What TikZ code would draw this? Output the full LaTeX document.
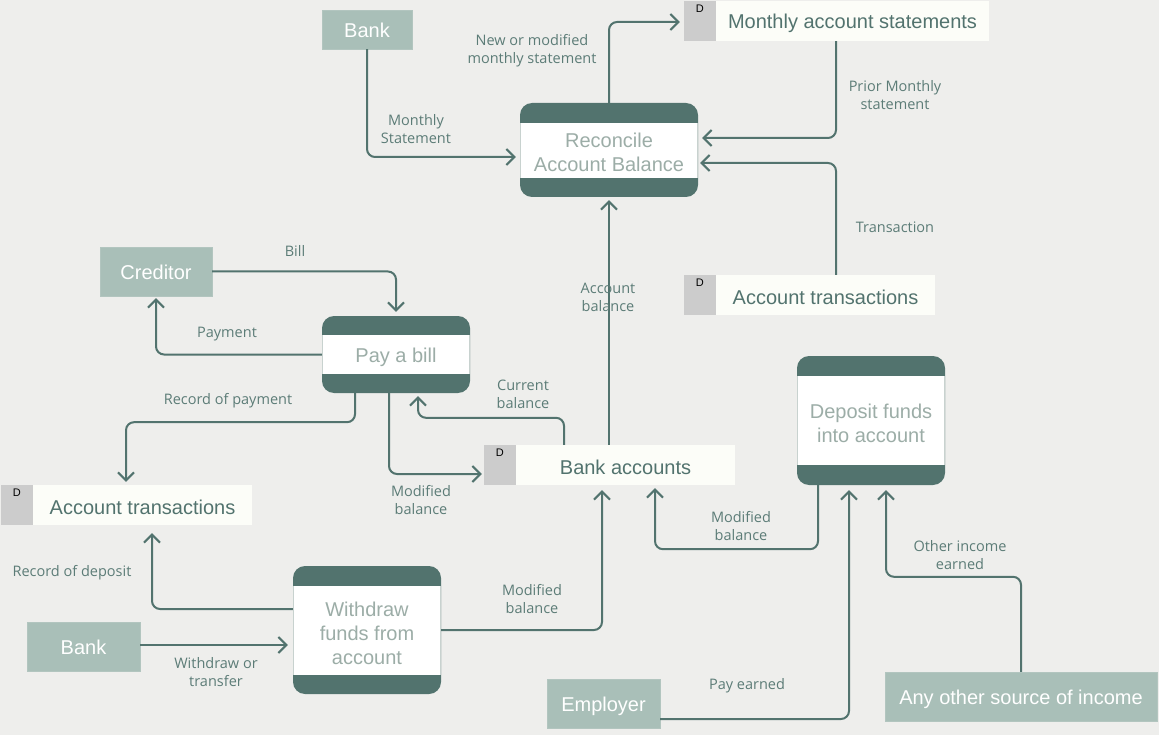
\documentclass[tikz,border=0pt]{standalone}
\usepackage{fontspec}
\setmainfont{Liberation Sans}
\newfontfamily\labfont{Open Sans}
\usetikzlibrary{arrows.meta,calc}
\definecolor{bgc}{HTML}{EEEEEC}
\definecolor{dark}{HTML}{52736E}
\definecolor{entc}{HTML}{A9BFB8}
\definecolor{proctext}{HTML}{9CADA7}
\definecolor{labc}{HTML}{5C7C77}
\definecolor{storec}{HTML}{FCFDF8}
\definecolor{dgray}{HTML}{CCCCCC}
\definecolor{edgec}{HTML}{C8D2CF}
\tikzset{
  entity/.style={fill=entc, draw=entc!90!white, text=white, inner sep=0pt, text height=15.5pt, text depth=0pt, font=\fontsize{20}{24}\selectfont},
  proc/.style={fill=dark, rounded corners=12pt, inner sep=0pt},
  proctxt/.style={align=center, inner sep=0pt, text=proctext, font=\fontsize{20}{24}\selectfont},
  bandbox/.style 2 args={path picture={
    \fill[white, sharp corners] ([yshift=-#1]path picture bounding box.north west) rectangle ([yshift=#2]path picture bounding box.south east);
    \draw[edgec, line width=1.2pt, sharp corners] ([yshift=-#1]path picture bounding box.north west) -- ([yshift=#2]path picture bounding box.south west);
    \draw[edgec, line width=1.2pt, sharp corners] ([yshift=-#1]path picture bounding box.north east) -- ([yshift=#2]path picture bounding box.south east);
  }},
  store/.style={fill=storec, inner sep=0pt, minimum height=40pt},
  storetext/.style={text=dark, inner sep=0pt, font=\fontsize{20}{24}\selectfont},
  dlabel/.style={text=black, inner sep=0pt, font=\fontsize{11}{13}\selectfont},
  flow/.style={draw=dark, line width=2pt, rounded corners=8pt, -{Straight Barb[length=8pt,width=16pt,line width=2pt]}},
  lab/.style={text=labc, align=center, inner sep=0pt, font=\labfont\fontsize{14.5}{18}\selectfont}
}
\newcommand{\dstore}[4]{% name, center, width, text
  \node[store, minimum width=#3] (#1) at #2 {};
  \fill[dgray] (#1.north west) rectangle ([xshift=32pt]#1.south west);
  \node[storetext] (#1-t) at ($(#1.center)+(16,2.5)$) {#4};
  \node[dlabel] (#1-d) at ($(#1.north west)+(16,8)$) {D};
}
\begin{document}
\begin{tikzpicture}[x=1pt,y=-1pt]
\useasboundingbox (0,0) rectangle (1159,735);
\fill[bgc] (0,0) rectangle (1159,735);

% external entities
\node[entity, minimum width=90pt, minimum height=39pt] (bank1) at (367,29.5) {Bank};
\node[entity, minimum width=112pt, minimum height=49pt] (creditor) at (156,271.5) {Creditor};
\node[entity, minimum width=113pt, minimum height=49pt] (bank2) at (83.5,646.5) {Bank};
\node[entity, minimum width=113pt, minimum height=49pt] (employer) at (603.5,703.5) {Employer};
\node[entity, minimum width=272pt, minimum height=49pt] (other) at (1021,696.5) {Any other source of income};

% processes
\node[proc, minimum width=178pt, minimum height=94pt, bandbox={20pt}{19pt}] (rec) at (609,150) {};
\node[proctxt] (rec-t) at ($(rec.center)+(0,2)$) {Reconcile\\Account Balance};
\node[proc, minimum width=148pt, minimum height=77pt, bandbox={19pt}{19pt}] (pay) at (396,354.5) {};
\node[proctxt] (pay-t) at ($(pay.center)+(0,3)$) {Pay a bill};
\node[proc, minimum width=148pt, minimum height=129pt, bandbox={20pt}{20pt}] (dep) at (871,420.5) {};
\node[proctxt] (dep-t) at ($(dep.center)+(0,3)$) {Deposit funds\\into account};
\node[proc, minimum width=148pt, minimum height=128pt, bandbox={20pt}{19pt}] (wd) at (367,630) {};
\node[proctxt] (wd-t) at ($(wd.center)+(0,3)$) {Withdraw\\funds from\\account};

% data stores
\dstore{mas}{(836.5,21)}{305pt}{Monthly account statements}
\dstore{atr}{(809.5,295)}{251pt}{Account transactions}
\dstore{bacc}{(609.5,465)}{251pt}{Bank accounts}
\dstore{atl}{(126.5,505)}{251pt}{Account transactions}

% flows
\draw[flow] (bank1.south) |- ($(rec.west)+(-4,7)$);
\draw[flow] (rec.north) |- ($(mas.west)+(-4,1)$);
\draw[flow] ($(mas.south)+(-0.5,0)$) |- ($(rec.east)+(4,-12)$);
\draw[flow] ($(atr.north)+(26.5,0)$) |- ($(rec.east)+(2,13)$);
\draw[flow] ($(bacc.north)+(-0.5,0)$) -- ($(rec.south)+(0,3)$);
\draw[flow] (creditor.east) -| ($(pay.north)+(0,-4)$);
\draw[flow] (pay.west) -| ($(creditor.south)+(0,2)$);
\draw[flow] ($(pay.south)+(-41,0)$) -- ++(0,29) -| ($(atl.north)+(-0.5,-3)$);
\draw[flow] ($(pay.south)+(-7,0)$) |- ($(bacc.west)+(-2,9)$);
\draw[flow] ($(bacc.north)+(-45.5,0)$) -- ++(0,-27) -| ($(pay.south)+(22,3)$);
\draw[flow] ($(wd.west)+(0,-21)$) -| ($(atl.south)+(25.5,8)$);
\draw[flow] ($(bank2.east)+(0,-1.5)$) -- ($(wd.west)+(-5,15)$);
\draw[flow] (wd.east) -| ($(bacc.south)+(-7.5,5)$);
\draw[flow] ($(dep.south)+(-53,0)$) -- ++(0,64) -| ($(bacc.south)+(45.5,3)$);
\draw[flow] ($(employer.east)+(0,15.5)$) -| ($(dep.south)+(-22,5)$);
\draw[flow] (other.north) -- ++(0,-95) -| ($(dep.south)+(15,5)$);

% labels
\node[lab] (l1) at (416,129) {Monthly\\Statement};
\node[lab] (l2) at (532,51) {New or modified\\monthly statement};
\node[lab] (l3) at (895,95) {Prior Monthly\\statement};
\node[lab] (l4) at (895,227) {Transaction};
\node[lab] (l5) at (608,297) {Account\\balance};
\node[lab] (l6) at (295,251) {Bill};
\node[lab] (l7) at (227,334) {Payment};
\node[lab] (l8) at (228,401) {Record of payment};
\node[lab] (l9) at (421,500) {Modified\\balance};
\node[lab] (l10) at (523,394) {Current\\balance};
\node[lab] (l11) at (72,573) {Record of deposit};
\node[lab] (l12) at (216,672) {Withdraw or\\transfer};
\node[lab] (l13) at (532,599) {Modified\\balance};
\node[lab] (l14) at (741,526) {Modified\\balance};
\node[lab] (l15) at (747,686) {Pay earned};
\node[lab] (l16) at (960,555) {Other income\\earned};
\end{tikzpicture}
\end{document}
